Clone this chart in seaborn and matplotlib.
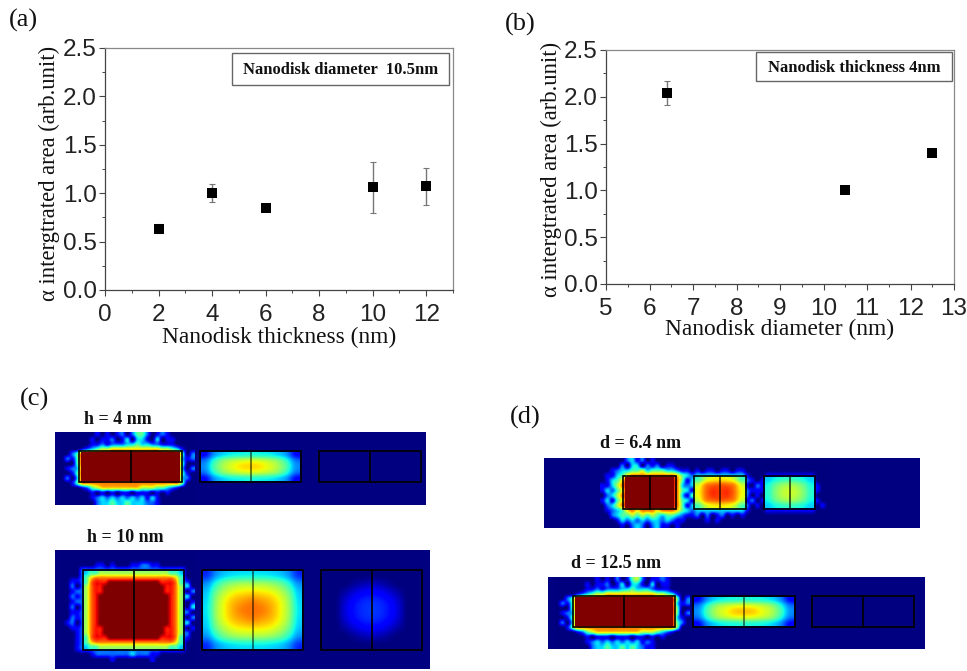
import numpy as np
import pandas as pd
import seaborn as sns
import matplotlib.pyplot as plt
from matplotlib.patches import Rectangle
from matplotlib.ticker import MultipleLocator

# panel (a)
thickness = [2, 4, 6, 10, 12]
area_a = [0.635, 1.0, 0.85, 1.06, 1.07]
err_a = [0.05, 0.09, 0.02, 0.26, 0.19]

# panel (b)
diameter = [6.4, 10.5, 12.5]
area_b = [2.04, 1.0, 1.395]
err_b = [0.13, 0.02, 0.02]

y_ticks = [0.0, 0.5, 1.0, 1.5, 2.0, 2.5]
x_ticks_a = [0, 2, 4, 6, 8, 10, 12]
x_ticks_b = [5, 6, 7, 8, 9, 10, 11, 12, 13]

# field maps on a 0-9 scale of the jet colormap
# one digit per cell, spaces only to keep the rows readable
h4_halo = [
    "000000010101202442012100000",
    "000000101120130331030110000",
    "000000112122233433221110000",
    "000012345566666666665543100",
    "0024 88888888888888888888 402",
    "0214 88888888888888888888 312",
    "0004 88888888888888888888 400",
    "0123 88888888888888888888 302",
    "0014 88888888888888888888 410",
    "0203 88888888888888888888 320",
    "0014 77777777777777777777 400",
    "000012456666666655544321000",
    "000000101010110111010100000",
    "000000123232323231310000000",
    "000000023343343332210000000",
]
h4_disk2 = [
    [1.2, 2.5, 3.1, 3.4, 3.5, 3.6, 3.5, 3.4, 3.1, 2.5, 1.2],
    [2.2, 3.6, 4.6, 5.1, 5.4, 5.5, 5.4, 5.1, 4.6, 3.6, 2.2],
    [2.5, 4.0, 5.0, 5.6, 6.0, 6.1, 6.0, 5.6, 5.0, 4.0, 2.5],
    [2.2, 3.6, 4.6, 5.1, 5.4, 5.5, 5.4, 5.1, 4.6, 3.6, 2.2],
    [1.2, 2.5, 3.1, 3.4, 3.5, 3.6, 3.5, 3.4, 3.1, 2.5, 1.2],
]
h10_halo = [
    "000000000000000000000000000",
    "000000000000000000000000000",
    "000000011010001122110000000",
    "0000 222222222222222222222 00",
    "0000 222222222222222222222 00",
    "0011 222222222222222222222 10",
    "0020 222222222222222222222 30",
    "0012 222222222222222222222 02",
    "0021 222222222222222222222 30",
    "0012 222222222222222222222 01",
    "0020 222222222222222222222 03",
    "0011 222222222222222222222 20",
    "0021 222222222222222222222 02",
    "0120 222222222222222222222 30",
    "0011 222222222222222222222 01",
    "0001 222222222222222222222 20",
    "0001 222222222222222222222 10",
    "0001 222222222222222222222 00",
    "0001 222222222222222222222 00",
    "000000 122222223222110 000000",
    "000000000010000000100000000",
]
h10_disk1 = [
    "344555555555555555443",
    "467777777777777777764",
    "478889999999999988874",
    "578899999999999998875",
    "578899999999999998875",
    "578999999999999999875",
    "578999999999999999875",
    "578999999999999999875",
    "578999999999999999875",
    "578999999999999999875",
    "578999999999999999875",
    "578999999999999999875",
    "578899999999999998875",
    "578899999999999998875",
    "478889999999999988874",
    "467777777777777777764",
    "344555555555555555443",
]
h10_disk2 = [
    [1.6, 2.5, 3.0, 3.2, 3.3, 3.3, 3.3, 3.2, 3.0, 2.5, 1.6],
    [2.5, 3.6, 4.4, 4.8, 5.0, 5.0, 5.0, 4.8, 4.4, 3.6, 2.5],
    [3.0, 4.4, 5.3, 5.8, 6.0, 6.1, 6.0, 5.8, 5.3, 4.4, 3.0],
    [3.2, 4.8, 5.8, 6.4, 6.7, 6.9, 6.7, 6.4, 5.8, 4.8, 3.2],
    [3.3, 4.9, 5.9, 6.6, 7.0, 7.1, 7.0, 6.6, 5.9, 4.9, 3.3],
    [3.2, 4.8, 5.8, 6.4, 6.7, 6.9, 6.7, 6.4, 5.8, 4.8, 3.2],
    [3.0, 4.4, 5.3, 5.8, 6.0, 6.1, 6.0, 5.8, 5.3, 4.4, 3.0],
    [2.5, 3.6, 4.4, 4.8, 5.0, 5.0, 5.0, 4.8, 4.4, 3.6, 2.5],
    [1.6, 2.5, 3.0, 3.2, 3.3, 3.3, 3.3, 3.2, 3.0, 2.5, 1.6],
]
h10_disk3 = [
    [0, 0, 0, 0, 0, 0, 0, 0, 0, 0, 0],
    [0, 0, 0, 0.2, 0.4, 0.5, 0.4, 0.2, 0, 0, 0],
    [0, 0, 0.3, 0.7, 1.0, 1.1, 1.0, 0.7, 0.3, 0, 0],
    [0, 0, 0.6, 1.1, 1.4, 1.5, 1.4, 1.1, 0.6, 0, 0],
    [0, 0, 0.7, 1.2, 1.5, 1.6, 1.5, 1.2, 0.7, 0, 0],
    [0, 0, 0.6, 1.1, 1.4, 1.5, 1.4, 1.1, 0.6, 0, 0],
    [0, 0, 0.3, 0.7, 1.0, 1.1, 1.0, 0.7, 0.3, 0, 0],
    [0, 0, 0, 0.2, 0.4, 0.5, 0.4, 0.2, 0, 0, 0],
    [0, 0, 0, 0, 0, 0, 0, 0, 0, 0, 0],
]
d64_halo = [
    "0000023120100000000 0000000000 0000 0000000000 000",
    "0000203302120110000 0000000000 0000 0000000000 000",
    "0012334453444332110 1011011011 0000 0000000000 000",
    "0113467777777776432 3333333333 1000 1111111111 000",
    "0134688888888887413 4444444444 2101 2222222222 000",
    "1135788888888887323 4444444444 1021 2222222222 100",
    "1324688888888887431 4444444444 2111 2222222222 100",
    "0235788888888887314 4444444444 2010 2222222222 000",
    "1314688888888887431 4444444444 1201 2222222222 100",
    "0235788888888887413 4444444444 2010 2222222222 010",
    "0123467677767776432 3333333333 1000 1111111111 000",
    "0023445454543443211 2020120101 0000 0000000000 000",
    "0001323232332321100 0010100000 0000 0000000000 000",
    "0000102320231101000 0000000000 0000 0000000000 000",
]
d64_disk2 = [
    [4.0, 5.4, 5.9, 6.0, 5.9, 5.4, 4.0],
    [5.4, 6.8, 7.2, 7.3, 7.2, 6.8, 5.4],
    [5.8, 7.1, 7.7, 7.6, 7.7, 7.1, 5.8],
    [5.8, 7.1, 7.7, 7.6, 7.7, 7.1, 5.8],
    [5.4, 6.8, 7.2, 7.3, 7.2, 6.8, 5.4],
    [4.0, 5.4, 5.9, 6.0, 5.9, 5.4, 4.0],
]
d64_disk3 = [
    [3.0, 3.4, 3.7, 3.8, 3.7, 3.4, 3.0],
    [3.4, 4.2, 4.7, 4.9, 4.7, 4.2, 3.4],
    [3.6, 4.5, 5.1, 5.3, 5.1, 4.5, 3.6],
    [3.6, 4.5, 5.1, 5.3, 5.1, 4.5, 3.6],
    [3.4, 4.2, 4.7, 4.9, 4.7, 4.2, 3.4],
    [3.0, 3.4, 3.7, 3.8, 3.7, 3.4, 3.0],
]
d125_halo = [
    "000000001010201452011210000",
    "000000101120130331030110000",
    "000000112122233433321110000",
    "000012345566666666665543100",
    "0024 88888888888888888888 402",
    "0214 88888888888888888888 312",
    "0004 88888888888888888888 400",
    "0123 88888888888888888888 402",
    "0014 88888888888888888888 310",
    "0203 88888888888888888888 420",
    "0014 77777777777777777777 400",
    "000012456666666665554321000",
    "000000101110111011010100000",
    "000000123232323231210000000",
    "000000023343343432110000000",
]
d125_disk2 = [
    [1.2, 2.5, 3.2, 3.5, 3.6, 3.7, 3.6, 3.5, 3.2, 2.5, 1.2],
    [2.2, 3.6, 4.7, 5.2, 5.5, 5.6, 5.5, 5.2, 4.7, 3.6, 2.2],
    [2.5, 4.0, 5.1, 5.7, 6.2, 6.3, 6.2, 5.7, 5.1, 4.0, 2.5],
    [2.2, 3.6, 4.7, 5.2, 5.5, 5.6, 5.5, 5.2, 4.7, 3.6, 2.2],
    [1.2, 2.5, 3.2, 3.5, 3.6, 3.7, 3.6, 3.5, 3.2, 2.5, 1.2],
]

sns.set_style("ticks")
serif = "Liberation Serif"
sans = "Liberation Sans"
plt.rcParams["font.family"] = sans

W, H = 967, 671
fig = plt.figure(figsize=(W / 100, H / 100), dpi=100)

# full figure axes in pixels for the maps and free text
ov = fig.add_axes([0, 0, 1, 1])
ov.set_xlim(0, W)
ov.set_ylim(H, 0)
ov.axis("off")
jet = plt.get_cmap("jet")


def to_grid(grid):
    if isinstance(grid[0], str):
        return np.array([[int(c) for c in row.replace(" ", "")] for row in grid], dtype=float)
    return np.array(grid, dtype=float)


def show_field(grid, x0, x1, y0, y1):
    # catrom keeps the small patches, bicubic smears them out
    ov.imshow(to_grid(grid), cmap=jet, vmin=0, vmax=9, aspect="auto",
              interpolation="catrom", extent=(x0, x1, y1, y0), zorder=2)


def strip(x0, x1, y0, y1):
    ov.add_patch(Rectangle((x0, y0), x1 - x0, y1 - y0, fc=jet(0.0), ec="none", zorder=1))


def disk(x0, x1, y0, y1, core=False, line_alpha=1.0):
    if core:
        ov.add_patch(Rectangle((x0 + 2, y0 + 1), x1 - x0 - 4, y1 - y0 - 2, fc=jet(1.0), ec="none", zorder=3))
    ov.add_patch(Rectangle((x0, y0), x1 - x0, y1 - y0, fc="none", ec="black", lw=1.2, zorder=4))
    ov.plot([(x0 + x1) / 2] * 2, [y0, y1], color="black", lw=1.2, alpha=line_alpha, zorder=4)


# (c) h = 4 nm
strip(55, 426, 432, 505)
show_field(h4_halo, 60, 195, 432, 505)
disk(79, 182, 451, 482, core=True)
show_field(h4_disk2, 201, 300, 452, 481)
disk(200, 301, 451, 482, line_alpha=0.6)
disk(319, 421, 451, 482)

# (c) h = 10 nm
strip(55, 430, 550, 669)
show_field(h10_halo, 60, 195, 552, 662)
show_field(h10_disk1, 84, 183, 571, 649)
disk(83, 184, 570, 650)
show_field(h10_disk2, 203, 302, 571, 649)
disk(202, 303, 570, 650, line_alpha=0.6)
show_field(h10_disk3, 322, 421, 571, 649)
disk(321, 422, 570, 650)

# (d) d = 6.4 nm
strip(544, 920, 458, 528)
show_field(d64_halo, 600, 830, 458, 528)
disk(623, 676, 476, 509, core=True)
show_field(d64_disk2, 695, 745, 477, 508)
disk(694, 746, 476, 509, line_alpha=0.75)
show_field(d64_disk3, 765, 814, 477, 508)
disk(764, 815, 476, 509, line_alpha=0.75)

# (d) d = 12.5 nm
strip(548, 925, 577, 649)
show_field(d125_halo, 555, 690, 577, 649)
disk(573, 675, 596, 627, core=True)
show_field(d125_disk2, 694, 794, 597, 626)
disk(693, 795, 596, 627, line_alpha=0.6)
disk(812, 914, 596, 627)

ov.set_xlim(0, W)
ov.set_ylim(H, 0)

for txt, x, y, size in [("(a)", 9, 20, 19), ("(b)", 505, 24, 19), ("(c)", 20, 399, 19), ("(d)", 510, 417, 19),
                        ("h = 4 nm", 84, 419, 13), ("h = 10 nm", 87, 537, 13),
                        ("d = 6.4 nm", 600, 444, 13), ("d = 12.5 nm", 571, 563, 13)]:
    ov.text(x, y, txt, family=serif, fontsize=size, ha="left", va="center", color="#111111",
            weight="bold" if size < 16 else "normal")


def scatter_panel(box, x, y, err, xlim, xticks, xlabel, ylab_x, ylab_y, xlab_y, note, note_box):
    left, top, right, bottom = box
    ax = fig.add_axes([left / W, 1 - bottom / H, (right - left) / W, (bottom - top) / H])
    ax.patch.set_alpha(0)
    df = pd.DataFrame({"x": x, "y": y})
    ax.errorbar(x, y, yerr=err, fmt="none", ecolor="#777777", elinewidth=1.0, capsize=2, capthick=0.8)
    sns.scatterplot(data=df, x="x", y="y", marker="s", color="black", s=42, linewidth=0, ax=ax, zorder=3)
    ax.set_xlim(xlim)
    ax.set_ylim(0, 2.5)
    ax.set_xticks(xticks)
    ax.set_yticks(y_ticks)
    ax.xaxis.set_minor_locator(MultipleLocator(1 if xlim[0] == 0 else 0.5))
    ax.yaxis.set_minor_locator(MultipleLocator(0.25))
    ax.tick_params(which="major", length=4, width=0.8, color="#444444", labelsize=17.5, labelcolor="#222222")
    ax.tick_params(axis="x", which="major", pad=6)
    ax.tick_params(axis="y", which="major", pad=2)
    ax.tick_params(which="minor", length=2.5, width=0.7, color="#444444")
    for s in ["left", "bottom"]:
        ax.spines[s].set_color("#444444")
        ax.spines[s].set_linewidth(0.9)
    for s in ["top", "right"]:
        ax.spines[s].set_color("#888888")
        ax.spines[s].set_linewidth(0.9)
    ax.set_xlabel("")
    ax.set_ylabel("")
    ov.text((left + right) / 2, xlab_y, xlabel, family=serif, fontsize=16.8, ha="center", va="center", color="#111111")
    ov.text(ylab_x, ylab_y, "\u03b1 intergtrated area (arb.unit)", family=serif, fontsize=16.3,
            rotation=90, ha="center", va="center", color="#111111")
    nx0, ny0, nx1, ny1 = note_box
    ov.add_patch(Rectangle((nx0, ny0), nx1 - nx0, ny1 - ny0, fc="white", ec="#666666", lw=1.0, zorder=6))
    ov.text((nx0 + nx1) / 2, (ny0 + ny1) / 2 + 1, note, family=serif, fontsize=12, weight="bold", ha="center",
            va="center", color="#111111", zorder=7)
    ax.set_zorder(1)
    return ax


ov.set_zorder(2)
scatter_panel((105, 48, 453, 290), thickness, area_a, err_a, (0, 13), x_ticks_a, "Nanodisk thickness (nm)",
              49, 173, 337, "Nanodisk diameter  10.5nm", (232, 53, 449, 85))
scatter_panel((606, 50, 954, 284), diameter, area_b, err_b, (5, 13), x_ticks_b, "Nanodisk diameter (nm)",
              551, 169, 329, "Nanodisk thickness 4nm", (756, 52, 952, 81))

fig.savefig("out.png", dpi=100)
